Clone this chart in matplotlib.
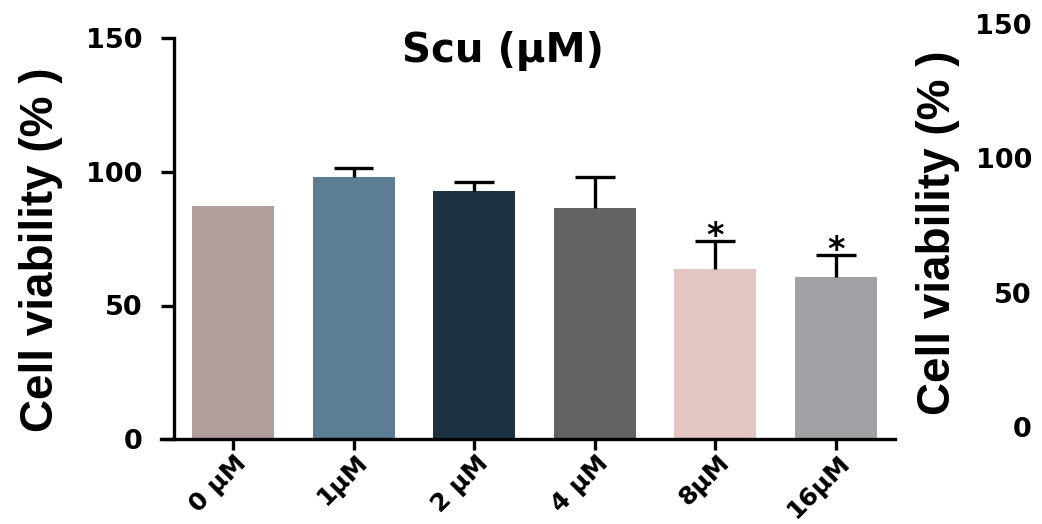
import matplotlib
matplotlib.use("Agg")
import matplotlib.pyplot as plt
import matplotlib.transforms as mtransforms
from matplotlib.font_manager import FontProperties
import numpy as np

plt.rcParams['font.family'] = ['DejaVu Sans']
plt.rcParams['font.weight'] = 'bold'

categories = ["0 μM", "1μM", "2 μM", "4 μM", "8μM", "16μM"]
means = [87.4, 98.0, 93.0, 86.7, 63.7, 60.7]
errors_up = [0.0, 3.6, 3.4, 11.3, 10.5, 8.3]
significance = ["", "", "", "", "*", "*"]
colors = ["#B09E9A", "#5C7D92", "#1C3142", "#636363", "#E3C6C1", "#A2A1A6"]
yticks = [0, 50, 100, 150]
title = "Scu (μM)"
ylabel = "Cell viability (% )"

W, H = 1042, 524
fig = plt.figure(figsize=(W / 100, H / 100), dpi=100)

label_fp = FontProperties(family=['Liberation Sans', 'DejaVu Sans'],
                          weight='bold', size=33)

# main axes in pixel geometry
x_left, x_right = 161, 895
y_top, y_bot = 38.5, 439
ax = fig.add_axes([x_left / W, 1 - y_bot / H, (x_right - x_left) / W, (y_bot - y_top) / H])

x = np.arange(len(categories))
ax.bar(x, means, width=0.68, color=colors, zorder=2)
cap_half = 0.165
for xi, m, e, s in zip(x, means, errors_up, significance):
    if e > 0:
        ax.vlines(xi, m, m + e, colors='black', linewidth=2.4, zorder=3)
        ax.hlines(m + e, xi - cap_half, xi + cap_half, colors='black',
                  linewidth=2.4, zorder=3)
    if s:
        ax.text(xi, m + e - 2.0, s, ha='center', va='baseline', fontsize=24,
                fontweight='bold', zorder=4)

ax.set_xlim(-0.597, 5.49)
ax.set_ylim(0, 150)
ax.spines['left'].set_position(('data', -0.49))
ax.spines['top'].set_visible(False)
ax.spines['right'].set_visible(False)
for sp in ['left', 'bottom']:
    ax.spines[sp].set_linewidth(2.4)

ax.set_yticks(yticks)
ax.set_yticklabels([str(v) for v in yticks])
ax.set_xticks(x)
ax.set_xticklabels(categories, rotation=45, ha='right', va='center',
                   rotation_mode='anchor')
ax.tick_params(axis='y', length=9.5, width=2.4, pad=13, labelsize=19.5)
ax.tick_params(axis='x', length=8, width=2.4, pad=6.5, labelsize=18)
offset = mtransforms.ScaledTranslation(10 / 100, 0, fig.dpi_scale_trans)
for lab in ax.get_xticklabels():
    lab.set_transform(lab.get_transform() + offset)
    lab.set_fontweight('bold')
for lab in ax.get_yticklabels():
    lab.set_fontweight('bold')

ax.set_ylabel(ylabel, fontproperties=label_fp)
ax.yaxis.set_label_coords(63 / W, 1 - 250 / H, transform=fig.transFigure)

fig.text(503 / W, 1 - 62 / H, title, ha='center', va='baseline',
         fontsize=29, fontweight='bold')

# duplicated right-hand axis (shifted up)
r_top, r_bot = 24, 427
ax2 = fig.add_axes([1032 / W, 1 - r_bot / H, 0.0001, (r_bot - r_top) / H])
ax2.set_ylim(0, 150)
ax2.set_yticks(yticks)
ax2.set_yticklabels([str(v) for v in yticks])
ax2.set_xticks([])
for sp in ax2.spines.values():
    sp.set_visible(False)
ax2.patch.set_visible(False)
ax2.tick_params(axis='y', length=0, pad=0, labelsize=19.5)
for lab in ax2.get_yticklabels():
    lab.set_fontweight('bold')
ax2.set_ylabel(ylabel, fontproperties=label_fp)
ax2.yaxis.set_label_coords(960 / W, 1 - 233 / H, transform=fig.transFigure)

fig.savefig("out.png", dpi=100)
